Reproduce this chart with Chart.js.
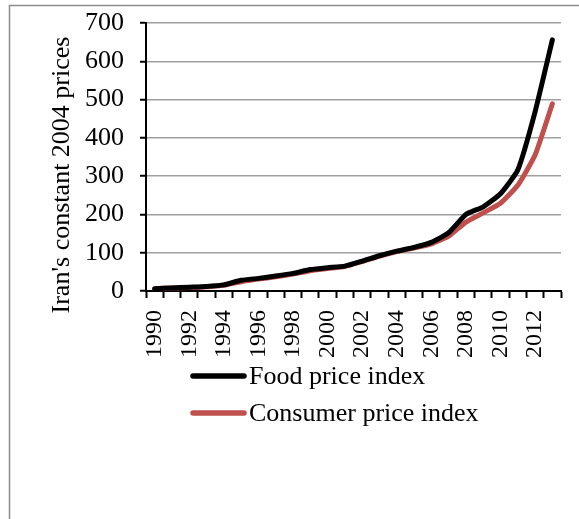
<!DOCTYPE html>
<html>
<head>
<meta charset="utf-8">
<script src="https://cdn.jsdelivr.net/npm/chart.js@4"></script>
<style>
  html, body { margin: 0; padding: 0; background: #fff; }
  #wrap { width: 579px; height: 519px; position: relative; }
</style>
</head>
<body>
<div id="wrap"><canvas id="c" width="579" height="519"></canvas></div>
<script>
// Years on the horizontal axis
const years = [1990, 1991, 1992, 1993, 1994, 1995, 1996, 1997, 1998, 1999, 2000, 2001,
               2002, 2003, 2004, 2005, 2006, 2007, 2008, 2009, 2010, 2011, 2012, 2013];
// Index values (Iran's constant 2004 prices)
const foodPriceIndex = [6, 8, 10, 12, 16, 28, 33, 39, 46, 56, 61, 65,
                        78, 92, 104, 114, 127, 152, 200, 220, 254, 316, 468, 656];
const consumerPriceIndex = [6, 8, 9, 11, 15, 24, 31, 37, 44, 53, 59, 64,
                            77, 91, 103, 112, 123, 143, 180, 204, 229, 276, 355, 489];
const yTicks = [0, 100, 200, 300, 400, 500, 600, 700];
const seriesNames = ['Food price index', 'Consumer price index'];
const yTitle = "Iran's constant 2004 prices";

const FONT = '"Liberation Serif", "Times New Roman", serif';

// Keep the plot area exactly where the layout padding puts it
function noScalePadding(scale) {
  scale.paddingLeft = 0;
  scale.paddingRight = 0;
  scale.paddingTop = 0;
  scale.paddingBottom = 0;
}

// Outer frame, axis title and a stacked legend drawn on the canvas
const decorations = {
  id: 'decorations',
  beforeDraw(chart) {
    const ctx = chart.ctx;
    ctx.save();
    ctx.fillStyle = '#fff';
    ctx.fillRect(0, 0, chart.width, chart.height);
    ctx.strokeStyle = '#8c8c8c';
    ctx.lineWidth = 1.5;
    ctx.strokeRect(9.5, 5.5, 700, 700);
    ctx.restore();
  },
  afterDraw(chart) {
    const ctx = chart.ctx;
    const area = chart.chartArea;
    ctx.save();
    // vertical axis title
    ctx.translate(area.left - 84, area.bottom - 116);
    ctx.rotate(-Math.PI / 2);
    ctx.fillStyle = '#000';
    ctx.font = '26px ' + FONT;
    ctx.textAlign = 'center';
    ctx.textBaseline = 'middle';
    ctx.fillText(yTitle, 0, 0);
    ctx.restore();

    // legend entries, one per row
    ctx.save();
    ctx.font = '26px ' + FONT;
    ctx.textBaseline = 'middle';
    ctx.textAlign = 'left';
    chart.data.datasets.forEach((ds, i) => {
      const y = 376 + i * 37;
      ctx.strokeStyle = ds.borderColor;
      ctx.lineWidth = 5.5;
      ctx.lineCap = 'round';
      ctx.beginPath();
      ctx.moveTo(193, y);
      ctx.lineTo(244, y);
      ctx.stroke();
      ctx.fillStyle = '#000';
      ctx.fillText(ds.label, 249, y + 1);
    });
    ctx.restore();
  }
};

new Chart(document.getElementById('c'), {
  type: 'line',
  data: {
    labels: years,
    datasets: [
      {
        label: seriesNames[0],
        data: foodPriceIndex,
        borderColor: '#000000',
        backgroundColor: '#000000',
        borderWidth: 5,
        pointRadius: 0,
        tension: 0.15,
        borderCapStyle: 'round',
        borderJoinStyle: 'round'
      },
      {
        label: seriesNames[1],
        data: consumerPriceIndex,
        borderColor: '#C0504D',
        backgroundColor: '#C0504D',
        borderWidth: 5,
        pointRadius: 0,
        tension: 0.15,
        borderCapStyle: 'round',
        borderJoinStyle: 'round'
      }
    ]
  },
  options: {
    responsive: false,
    animation: false,
    devicePixelRatio: 1,
    layout: { padding: { left: 0, top: 23, right: 18, bottom: 148 } },
    plugins: {
      legend: { display: false },
      tooltip: { enabled: false }
    },
    scales: {
      x: {
        type: 'category',
        offset: true,
        grid: {
          offset: true,
          drawOnChartArea: false,
          drawTicks: true,
          tickLength: 7,
          tickColor: '#000',
          tickWidth: 2
        },
        border: { color: '#000', width: 2 },
        ticks: {
          autoSkip: false,
          maxRotation: 90,
          minRotation: 90,
          padding: 12,
          color: '#000',
          font: { family: FONT, size: 24 },
          callback: function (value, index) {
            const yr = years[index];
            return yr % 2 === 0 ? String(yr) : '';
          }
        },
        afterFit(scale) { scale.height = 80; noScalePadding(scale); }
      },
      y: {
        min: 0,
        max: 700,
        afterBuildTicks(scale) { scale.ticks = yTicks.map(v => ({ value: v })); },
        grid: {
          color: '#a0a0a0',
          lineWidth: 1.5,
          tickLength: 6,
          tickColor: '#000',
          tickWidth: 2
        },
        border: { color: '#000', width: 2 },
        ticks: {
          padding: 16,
          color: '#000',
          font: { family: FONT, size: 26 }
        },
        afterFit(scale) { scale.width = 146; noScalePadding(scale); }
      }
    }
  },
  plugins: [decorations]
});
</script>
</body>
</html>
